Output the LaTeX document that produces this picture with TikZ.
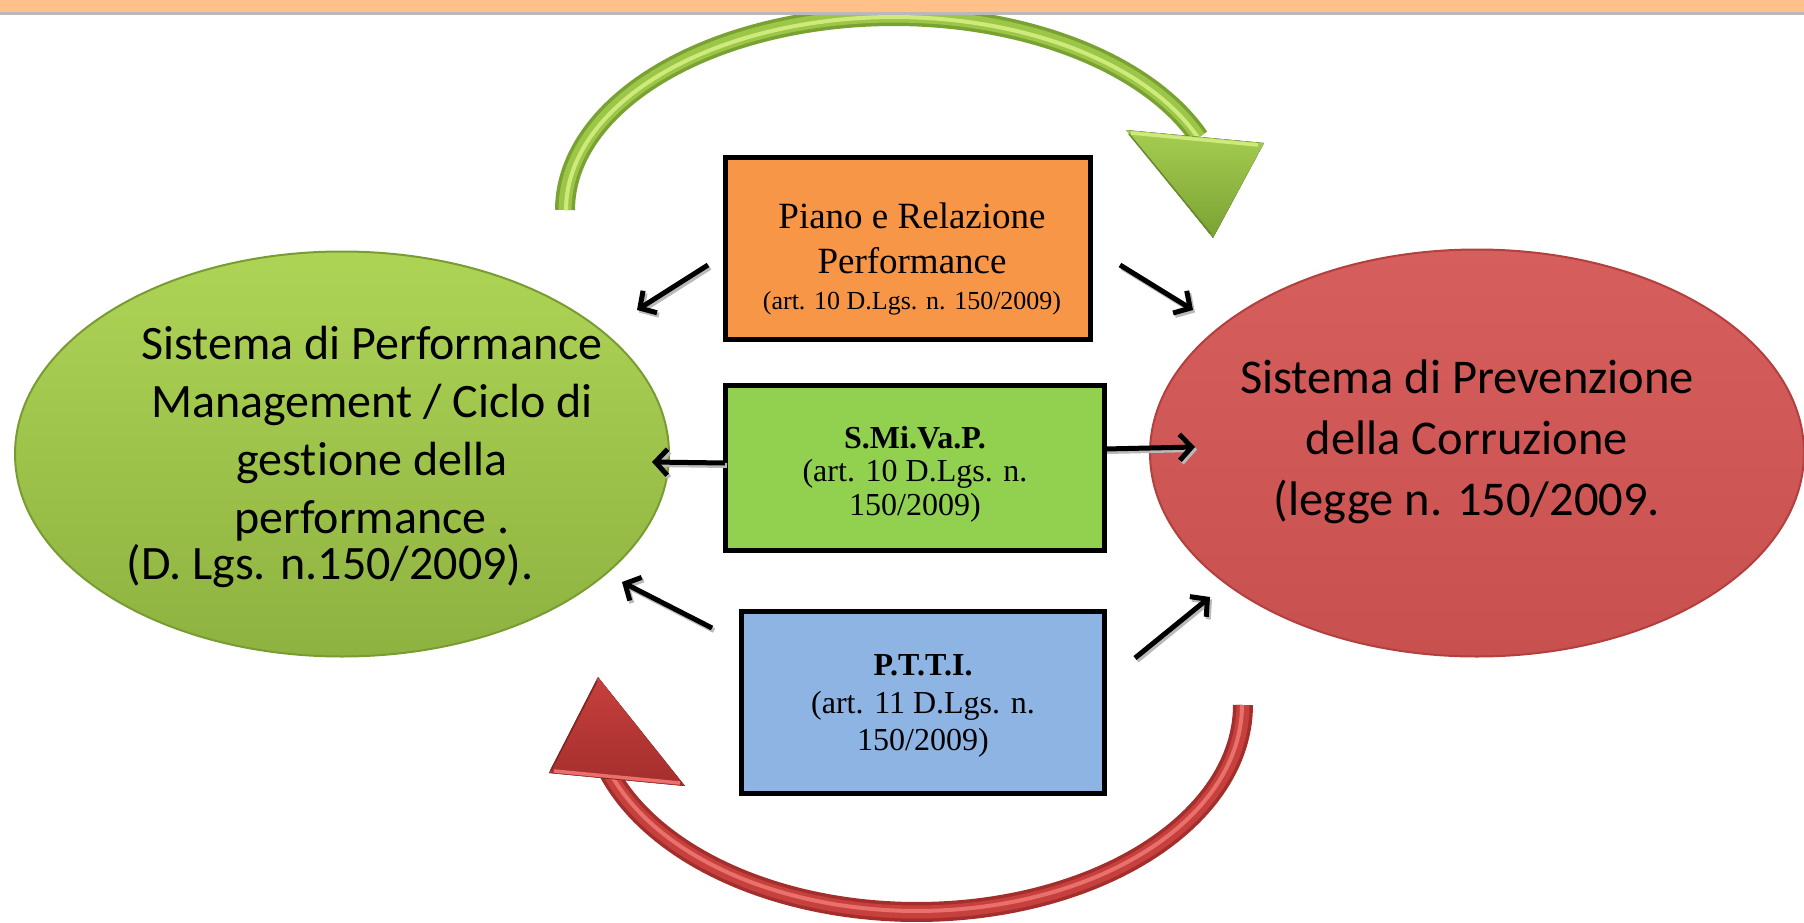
\documentclass[tikz,border=0pt]{standalone}
\usepackage{fontspec}
\setmainfont{Liberation Serif}
\newfontfamily\calibri[Ligatures=NoCommon]{Carlito}
\usetikzlibrary{arrows.meta,shapes.geometric}

\definecolor{bandorange}{RGB}{255,192,138}
\definecolor{ellgreenA}{RGB}{174,212,86}
\definecolor{ellgreenB}{RGB}{142,178,64}
\definecolor{ellgreenE}{RGB}{120,156,50}
\definecolor{ellredA}{RGB}{214,94,92}
\definecolor{ellredB}{RGB}{200,80,78}
\definecolor{ellredE}{RGB}{178,64,62}
\definecolor{boxorange}{RGB}{247,150,70}
\definecolor{boxgreen}{RGB}{146,208,80}
\definecolor{boxblue}{RGB}{142,180,227}
\definecolor{arcgreenD}{RGB}{122,162,50}
\definecolor{arcgreenM}{RGB}{156,198,72}
\definecolor{arcgreenL}{RGB}{206,234,122}
\definecolor{arcredD}{RGB}{164,46,44}
\definecolor{arcredM}{RGB}{198,64,62}
\definecolor{arcredL}{RGB}{234,112,108}

\tikzset{
  ellipsetext/.style={align=center, inner sep=0pt},
  infobox/.style={draw=black, line width=5pt, inner sep=0pt},
  boxtext/.style={align=center, inner sep=0pt},
  link/.style={line width=5pt, -{Straight Barb[length=12pt,width=26pt]}},
  linkshadow/.style={link, draw=gray!55, transform canvas={xshift=2pt,yshift=-2.5pt}},
}

\begin{document}
\begin{tikzpicture}[x=1pt,y=-1pt]
\useasboundingbox (0,0) rectangle (1804,923);
\clip (0,0) rectangle (1804,923);

% the two systems
\node (perf) [ellipse, minimum width=654pt, minimum height=405pt,
  top color=ellgreenA, bottom color=ellgreenB, draw=ellgreenE, line width=2pt] at (342,454) {};
\node (prev) [ellipse, minimum width=654pt, minimum height=407pt,
  top color=ellredA, bottom color=ellredB, draw=ellredE, line width=2pt] at (1477,453) {};

\node (perftxt) [ellipsetext, font=\calibri\fontsize{48}{58}\selectfont] at (372,457)
  {Sistema di Performance\\Management / Ciclo di\\gestione della\hspace*{34pt}\\performance .\\[-12pt](D. Lgs. n.150/2009).\hspace*{84pt}};
\node (prevtxt) [ellipsetext, font=\calibri\fontsize{48.5}{61}\selectfont] at (1467,442)
  {Sistema di Prevenzione\\della Corruzione\\(legge n. 150/2009.};

% green curved arrow (top)
\draw[arcgreenD, line width=20pt] plot[domain=180:22, samples=100] ({894+329*cos(\x)},{210-194*sin(\x)});
\draw[arcgreenM, line width=13pt] plot[domain=180:22, samples=100] ({894+329*cos(\x)},{210-194*sin(\x)});
\draw[arcgreenL, line width=4pt] plot[domain=180:22, samples=100] ({894+328*cos(\x)},{210-193*sin(\x)});
\fill[top color=arcgreenM!80!arcgreenL, bottom color=arcgreenD] (1126,130) -- (1264,143) -- (1213,238) -- cycle;
\draw[arcgreenL, line width=3.5pt] (1131,133) -- (1258,145);
\draw[arcgreenD!85!black, line width=1.5pt] (1129,134) -- (1211,234);

% red curved arrow (bottom)
\draw[arcredD, line width=20pt] plot[domain=0:161, samples=100] ({917+326*cos(\x)},{705+207*sin(\x)});
\draw[arcredM, line width=13pt] plot[domain=0:161, samples=100] ({917+326*cos(\x)},{705+207*sin(\x)});
\draw[arcredL, line width=4pt] plot[domain=0:161, samples=100] ({917+325*cos(\x)},{705+206*sin(\x)});
\fill[top color=arcredM, bottom color=arcredD] (549,773) -- (685,786) -- (598,677) -- cycle;
\draw[arcredL, line width=3.5pt] (554,771) -- (680,783);
\draw[arcredD!80!black, line width=1.5pt] (551,770) -- (597,681);

% the three instruments
\node (piano) [infobox, fill=boxorange, minimum width=365pt, minimum height=182pt] at (908,248) {};
\node (pianotxt) [boxtext, font=\fontsize{37}{45}\selectfont] at (912,259)
  {Piano e Relazione\\Performance\\[-9pt]{\fontsize{26}{30}\selectfont (art. 10 D.Lgs. n. 150/2009)}};
\node (smivap) [infobox, fill=boxgreen, minimum width=379pt, minimum height=165pt] at (915,468) {};
\node (smivaptxt) [boxtext, font=\fontsize{32}{33.5}\selectfont] at (915,474)
  {\textbf{S.Mi.Va.P.}\\(art. 10 D.Lgs. n.\\150/2009)};
\node (ptti) [infobox, fill=boxblue, minimum width=363pt, minimum height=182pt] at (923,702) {};
\node (pttitxt) [boxtext, font=\fontsize{32}{37.5}\selectfont] at (923,706)
  {\textbf{P.T.T.I.}\\(art. 11 D.Lgs. n.\\150/2009)};

% arrow end points
\coordinate (a1s) at (708,265); \coordinate (a1e) at (637,310);
\coordinate (a2s) at (1120,265); \coordinate (a2e) at (1193,310);
\coordinate (a3s) at (725,463); \coordinate (a3e) at (652,462);
\coordinate (a4s) at (1105,449); \coordinate (a4e) at (1195,447);
\coordinate (a5s) at (712,628); \coordinate (a5e) at (622,582);
\coordinate (a6s) at (1135,658); \coordinate (a6e) at (1210,597);

\foreach \i in {1,...,6} {\draw[linkshadow] (a\i s) -- (a\i e);}
\foreach \i in {1,...,6} {\draw[link] (a\i s) -- (a\i e);}

% header band
\fill[bandorange] (0,0) rectangle (1804,12);
\fill[gray!55] (0,12) rectangle (1804,15);
\end{tikzpicture}
\end{document}
